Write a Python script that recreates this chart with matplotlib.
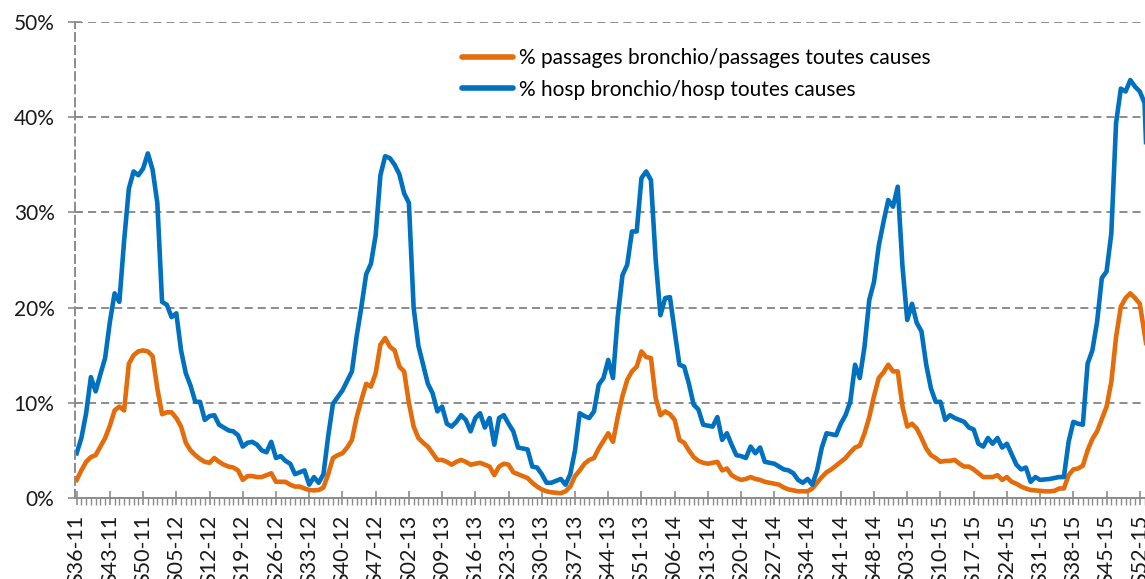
import numpy as np
import matplotlib
matplotlib.use("Agg")
import matplotlib.pyplot as plt
from matplotlib.ticker import MultipleLocator, FixedLocator, FuncFormatter

# % hospitalisations bronchio / hospitalisations toutes causes (hebdo, S36-11 -> S01-16)
hosp = [
    4.7, 6.3, 8.9, 12.7, 11.2, 13.0, 14.7, 18.5, 21.5, 20.6,
    27.0, 32.5, 34.3, 33.9, 34.6, 36.2, 34.5, 31.0, 20.6, 20.3,
    19.0, 19.4, 15.5, 13.1, 11.8, 10.1, 10.1, 8.2, 8.6, 8.7,
    7.7, 7.4, 7.1, 7.0, 6.6, 5.4, 5.8, 5.9, 5.6, 5.0,
    4.8, 5.9, 4.2, 4.4, 3.9, 3.6, 2.5, 2.7, 2.9, 1.4,
    2.2, 1.6, 2.5, 6.5, 9.9, 10.6, 11.3, 12.3, 13.3, 17.0,
    20.1, 23.5, 24.6, 27.6, 33.9, 35.9, 35.7, 35.0, 34.0, 32.0,
    31.0, 20.0, 16.0, 14.0, 12.0, 11.0, 9.1, 9.6, 7.8, 7.5,
    8.0, 8.7, 8.2, 7.0, 8.4, 8.9, 7.4, 8.4, 5.6, 8.4,
    8.7, 7.8, 7.0, 5.3, 5.2, 5.1, 3.3, 3.2, 2.5, 1.6,
    1.6, 1.8, 2.0, 1.4, 2.5, 5.0, 8.9, 8.6, 8.4, 9.1,
    11.9, 12.6, 14.5, 12.6, 19.0, 23.4, 24.5, 28.0, 28.0, 33.6,
    34.3, 33.4, 25.0, 19.2, 21.0, 21.1, 17.5, 14.0, 13.8, 12.0,
    9.8, 9.3, 7.7, 7.6, 7.5, 8.5, 6.1, 6.8, 5.6, 4.5,
    4.4, 4.2, 5.4, 4.7, 5.3, 3.8, 3.7, 3.6, 3.3, 3.0,
    2.9, 2.6, 1.9, 1.6, 2.0, 1.4, 2.9, 5.3, 6.8, 6.7,
    6.6, 7.8, 8.7, 10.1, 14.0, 12.6, 15.9, 20.8, 22.7, 26.5,
    29.0, 31.3, 30.6, 32.7, 24.3, 18.7, 20.4, 18.4, 17.5, 14.0,
    11.5, 10.1, 10.1, 8.2, 8.7, 8.4, 8.2, 8.0, 7.4, 7.2,
    5.7, 5.4, 6.3, 5.7, 6.3, 5.3, 5.7, 4.6, 3.5, 3.0,
    3.2, 1.7, 2.2, 1.9, 1.95, 2.0, 2.1, 2.2, 2.2, 5.9,
    8.0, 7.8, 7.7, 14.1, 15.5, 18.5, 23.1, 23.8, 27.8, 39.4,
    43.0, 42.7, 43.9, 43.2, 42.7, 41.5, 28.0,
]

# % passages bronchio / passages toutes causes
passages = [
    1.9, 2.9, 3.8, 4.3, 4.5, 5.4, 6.3, 7.6, 9.2, 9.6,
    9.2, 14.1, 15.0, 15.4, 15.5, 15.4, 14.9, 11.5, 8.8, 9.0,
    9.0, 8.4, 7.5, 5.8, 5.0, 4.5, 4.1, 3.8, 3.7, 4.2,
    3.8, 3.5, 3.3, 3.2, 2.9, 1.9, 2.3, 2.3, 2.2, 2.2,
    2.4, 2.6, 1.7, 1.7, 1.7, 1.4, 1.2, 1.2, 1.0, 0.84,
    0.8, 0.84, 1.1, 2.5, 4.2, 4.5, 4.7, 5.3, 6.1, 8.5,
    10.3, 12.0, 11.7, 13.1, 16.1, 16.8, 15.9, 15.5, 13.8, 13.3,
    10.0, 7.5, 6.3, 5.8, 5.4, 4.7, 4.0, 4.0, 3.8, 3.5,
    3.8, 4.0, 3.8, 3.5, 3.6, 3.7, 3.5, 3.3, 2.4, 3.3,
    3.6, 3.5, 2.7, 2.5, 2.3, 2.1, 1.6, 1.2, 0.9, 0.7,
    0.6, 0.55, 0.5, 0.7, 1.2, 2.3, 2.9, 3.6, 4.0, 4.2,
    5.2, 6.0, 6.8, 5.9, 8.5, 10.7, 12.4, 13.3, 13.8, 15.4,
    14.8, 14.7, 10.5, 8.7, 9.1, 8.8, 8.2, 6.1, 5.8, 5.0,
    4.3, 3.9, 3.7, 3.6, 3.7, 3.8, 2.9, 3.1, 2.4, 2.1,
    1.9, 2.0, 2.2, 2.0, 1.9, 1.7, 1.6, 1.5, 1.4, 1.1,
    0.9, 0.8, 0.7, 0.7, 0.7, 1.0, 1.6, 2.2, 2.7, 3.0,
    3.4, 3.8, 4.2, 4.8, 5.3, 5.5, 6.8, 8.5, 10.7, 12.6,
    13.2, 14.0, 13.3, 13.3, 9.6, 7.5, 7.8, 7.3, 6.3, 5.2,
    4.5, 4.2, 3.8, 3.9, 3.9, 4.0, 3.6, 3.3, 3.3, 3.0,
    2.6, 2.2, 2.2, 2.2, 2.4, 1.9, 2.2, 1.7, 1.5, 1.2,
    1.0, 0.84, 0.8, 0.75, 0.7, 0.7, 0.75, 1.0, 1.0, 2.4,
    3.0, 3.1, 3.4, 5.0, 6.2, 7.0, 8.3, 9.6, 12.2, 16.9,
    20.1, 21.0, 21.5, 21.0, 20.4, 17.3, 14.0,
]

tick_labels = [
    "S36-11", "S43-11", "S50-11", "S05-12", "S12-12", "S19-12", "S26-12",
    "S33-12", "S40-12", "S47-12", "S02-13", "S09-13", "S16-13", "S23-13",
    "S30-13", "S37-13", "S44-13", "S51-13", "S06-14", "S13-14", "S20-14",
    "S27-14", "S34-14", "S41-14", "S48-14", "S03-15", "S10-15", "S17-15",
    "S24-15", "S31-15", "S38-15", "S45-15", "S52-15",
]

plt.rcParams['font.family'] = ['Lato', 'DejaVu Sans']
plt.rcParams['lines.scale_dashes'] = False

orange = '#E46C0A'
blue = '#0070C0'
grey = '#8C8C8C'
dash = (0, (5.8, 3.6))

weeks = np.arange(len(hosp))

fig = plt.figure(figsize=(11.45, 5.79), dpi=100)
ax = fig.add_axes([0.0659, 0.1399, 0.942, 0.8221])

ax.plot(weeks, passages, color=orange, lw=3.3, solid_joinstyle='round',
        label='% passages bronchio/passages toutes causes')
ax.plot(weeks, hosp, color=blue, lw=3.3, solid_joinstyle='round',
        label='% hosp bronchio/hosp toutes causes')

ax.set_xlim(-0.25, 227)
ax.set_ylim(0, 50)

ax.yaxis.set_major_locator(MultipleLocator(10))
ax.yaxis.set_major_formatter(FuncFormatter(lambda v, p: '%d%%' % v))
ax.grid(axis='y', color=grey, lw=1.4, linestyle=dash)
ax.set_axisbelow(True)

ax.xaxis.set_major_locator(FixedLocator(np.arange(len(tick_labels)) * 7))
ax.set_xticklabels(tick_labels, rotation=90, va='top', ha='center')
ax.xaxis.set_minor_locator(MultipleLocator(1))

for s in ['top', 'right']:
    ax.spines[s].set_visible(False)
ax.spines['left'].set_color(grey)
ax.spines['left'].set_linestyle(dash)
ax.spines['left'].set_linewidth(1.4)
ax.spines['bottom'].set_color(grey)
ax.spines['bottom'].set_linewidth(1.4)

ax.tick_params(axis='y', direction='inout', length=10, width=1.2, color=grey,
               labelsize=15, pad=10, labelcolor='#1a1a1a')
ax.tick_params(axis='x', which='major', direction='inout', length=10, width=1.2,
               color=grey, labelsize=15.5, pad=7, labelcolor='#1a1a1a')
ax.tick_params(axis='x', which='minor', direction='out', length=5, width=1.0,
               color=grey)

leg = ax.legend(loc='upper left', bbox_to_anchor=(0.4035, 0.917),
                bbox_transform=fig.transFigure, frameon=False, fontsize=15,
                handlelength=2.45, handletextpad=0.3, labelspacing=0.55,
                borderaxespad=0, borderpad=0)
for h in leg.get_lines():
    h.set_linewidth(4.0)
    h.set_solid_capstyle('round')

fig.savefig('out.png', dpi=100)
